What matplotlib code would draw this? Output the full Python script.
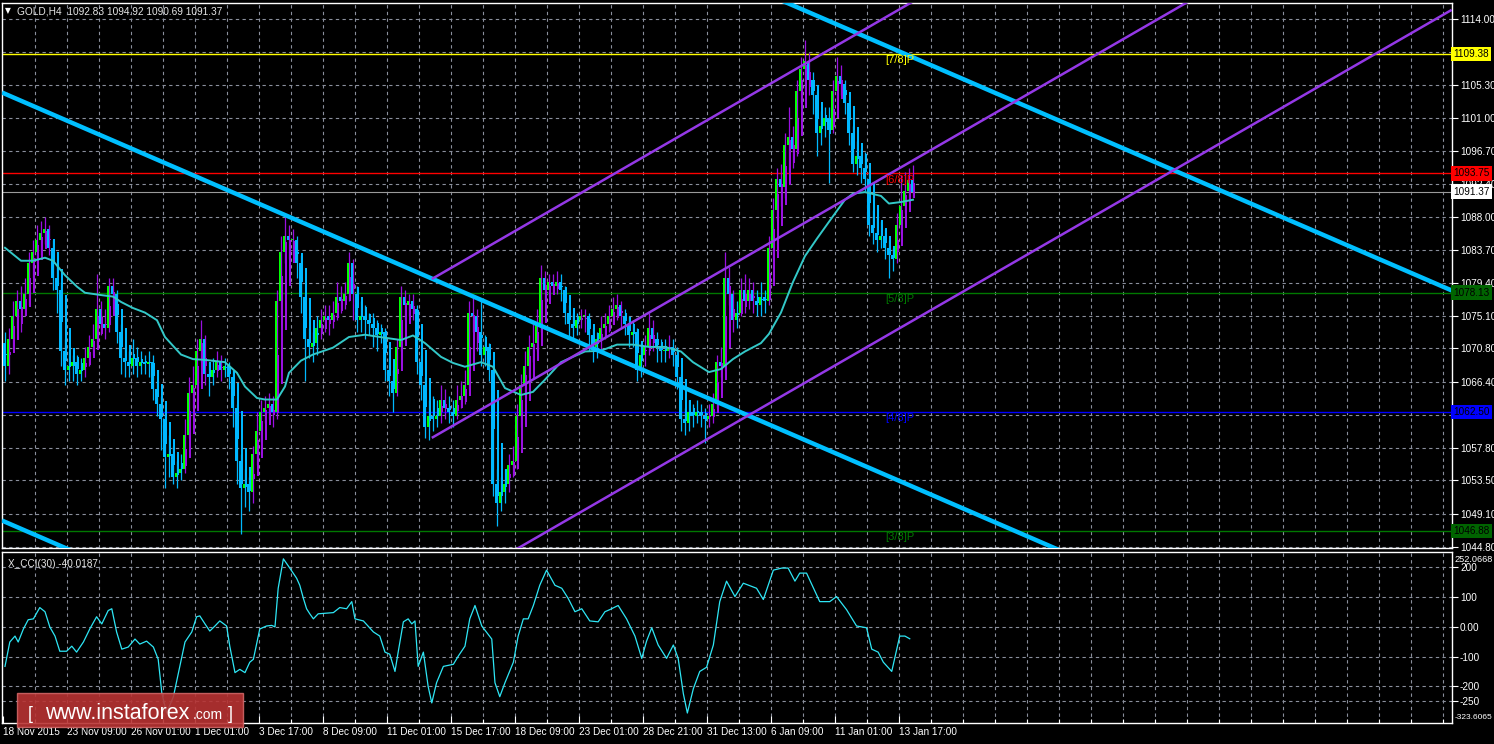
import matplotlib
matplotlib.use("Agg")
import matplotlib.pyplot as plt
import matplotlib.transforms as mtransforms
from matplotlib.patches import Rectangle
import numpy as np

plt.rcParams['font.family'] = ['Liberation Sans', 'DejaVu Sans']

# ---- datos (GOLD H4) ----
first_open = 1071.5
closes = [1068.5, 1072, 1075, 1077, 1076, 1078, 1082, 1083.5, 1085, 1086,
          1086.5, 1084, 1080, 1078.5, 1070.5, 1068, 1068.5, 1069, 1067.5, 1068,
          1069.5, 1071, 1072, 1076, 1074, 1073.5, 1079, 1078, 1073, 1069.5,
          1069, 1068.5, 1069.5, 1068.5, 1069, 1068.8, 1069, 1065.5, 1063.5, 1061.5,
          1056.5, 1057, 1054, 1054.5, 1055, 1059.5, 1065, 1066, 1070.5, 1072,
          1067.5, 1067, 1068, 1069, 1068, 1068.5, 1067, 1063, 1056, 1052.5,
          1053, 1052, 1057, 1060, 1062.5, 1063, 1063.5, 1062.5, 1077, 1083.5,
          1085.5, 1085, 1085, 1082, 1077.5, 1072, 1071, 1071.5, 1073.5, 1074.5,
          1075, 1074.5, 1075.5, 1077.5, 1077, 1078, 1082, 1078, 1074.5, 1075,
          1074.5, 1074, 1073.5, 1072.5, 1073, 1068, 1066.5, 1065, 1071, 1077.5,
          1076.5, 1077, 1076, 1069, 1066, 1060.5, 1062, 1061.5, 1062, 1064,
          1063, 1062.5, 1062, 1064, 1064.5, 1066, 1075.5, 1075, 1073, 1070,
          1071, 1068, 1053, 1050.5, 1052, 1053, 1055.5, 1056, 1062, 1066,
          1068.5, 1071, 1071.5, 1074, 1080, 1078.5, 1079.5, 1079, 1079.5, 1078.5,
          1075.5, 1074, 1073.5, 1074.5, 1075, 1075, 1072.5, 1071, 1072, 1073.5,
          1074, 1075, 1076, 1076.5, 1075, 1074, 1072.5, 1073, 1068, 1070,
          1071, 1073.5, 1072, 1071, 1070.5, 1070.5, 1071, 1070, 1067, 1061.5,
          1061, 1062.5, 1062, 1062.5, 1062, 1061.5, 1062, 1063.5, 1069, 1068.5,
          1080, 1078, 1074.5, 1075.5, 1078.5, 1077, 1078.5, 1077, 1076.5, 1077.5,
          1077, 1084, 1089, 1093, 1092, 1097.5, 1098.5, 1097, 1104.5, 1107.5,
          1108.5, 1106, 1104, 1099, 1100, 1101, 1099.5, 1104.5, 1106.5, 1105.5,
          1103, 1099, 1095, 1096, 1094.5, 1093, 1087, 1086, 1085, 1085.5,
          1084, 1083, 1082.5, 1087, 1089.5, 1091.5, 1092.83, 1091.37]
highs = [1073, 1073.5, 1077, 1078.5, 1079, 1080, 1083.5, 1085, 1087, 1087.5,
         1088, 1087, 1085, 1082, 1079.5, 1072, 1070.5, 1070, 1070, 1069.5,
         1071, 1072.5, 1074, 1080.5, 1077, 1076, 1080, 1080, 1078.5, 1074,
         1071, 1070.5, 1072, 1071, 1070.5, 1070, 1070.5, 1070, 1066.5, 1064.5,
         1062.5, 1059.5, 1058, 1056, 1057, 1061.5, 1067, 1068.5, 1072, 1074.5,
         1072.5, 1069, 1069.5, 1070.5, 1070, 1069.5, 1069, 1068, 1063.5, 1057,
         1055, 1054, 1058, 1062.5, 1064, 1064.5, 1065, 1064.5, 1078.5, 1085.5,
         1088, 1087, 1086.5, 1085.5, 1083, 1078, 1073.5, 1073, 1075, 1076,
         1076.5, 1076.5, 1077, 1079.5, 1079, 1079.5, 1083.5, 1082.5, 1079, 1077,
         1076.5, 1075.5, 1075.5, 1074.5, 1074, 1073.5, 1069.5, 1068, 1072, 1079,
         1078.5, 1078, 1078, 1076.5, 1070, 1067, 1064, 1064.5, 1064, 1066,
         1065.5, 1064.5, 1064, 1066, 1066.5, 1068, 1077, 1077.5, 1076, 1077,
         1072.5, 1071.5, 1068.5, 1055, 1054, 1055, 1057, 1058, 1063.5, 1067.5,
         1070.5, 1072.5, 1074, 1076, 1081.8, 1081, 1080.5, 1080.5, 1081, 1080.5,
         1079, 1076.5, 1075.5, 1075.5, 1076, 1076, 1075.5, 1073.5, 1073, 1075,
         1075.5, 1076.5, 1077.5, 1078, 1077, 1076, 1075, 1074.5, 1073.5, 1071.5,
         1072.5, 1075.5, 1074.5, 1073, 1072, 1072, 1072.5, 1072, 1071, 1067.5,
         1063, 1064, 1063.5, 1064, 1063.5, 1063, 1063.5, 1065, 1070, 1071,
         1083.5, 1081.5, 1078.5, 1077, 1080, 1080.5, 1080, 1079.5, 1078.5, 1079.5,
         1078.5, 1085.5, 1090.5, 1094.5, 1095, 1099, 1102.5, 1100, 1106, 1109,
         1111.2, 1109.5, 1107, 1104.5, 1102, 1102.5, 1102.5, 1106, 1109, 1108,
         1106, 1103.5, 1100, 1098, 1097, 1096.5, 1094, 1089, 1088, 1087.5,
         1086.5, 1085, 1084, 1088.5, 1093.5, 1094, 1094.5, 1094.92]
lows = [1066.5, 1067.5, 1071, 1073.5, 1073, 1075, 1076.5, 1080, 1082, 1083,
        1084.5, 1083, 1078.5, 1075.5, 1068.5, 1066, 1066.5, 1066.5, 1066, 1066.5,
        1067, 1068.5, 1070, 1071, 1072.5, 1072, 1073, 1076, 1071.5, 1067.5,
        1067, 1067, 1067.5, 1067, 1067.5, 1067.5, 1067, 1064, 1062, 1057.5,
        1052.5, 1054, 1053, 1052.5, 1053.5, 1054.5, 1059, 1063, 1065.5, 1069,
        1066, 1064.5, 1066, 1067, 1066.5, 1067, 1065.5, 1060.5, 1053, 1046.5,
        1050, 1049.5, 1050.5, 1055.5, 1058.5, 1061, 1061.5, 1060.5, 1061.5, 1075,
        1082, 1082.5, 1083, 1080, 1075.5, 1066.5, 1069.5, 1069, 1070, 1072,
        1073, 1072.5, 1073.5, 1074.5, 1075.5, 1076, 1077, 1074.5, 1073, 1073,
        1072, 1072.5, 1071, 1070.5, 1071.5, 1066.5, 1064.5, 1062.5, 1064.5, 1070.5,
        1074.5, 1075, 1074.5, 1067.5, 1064, 1059, 1058.8, 1060, 1060.5, 1061,
        1061.5, 1061, 1060.5, 1061.5, 1063, 1063.5, 1065.5, 1073, 1070.5, 1068.5,
        1068.5, 1066.5, 1051.5, 1047.5, 1049.5, 1050.5, 1052, 1054, 1055, 1060.5,
        1064.5, 1067, 1069, 1070.5, 1073, 1077, 1077.5, 1078, 1078, 1077,
        1074, 1072, 1072, 1072.5, 1073.5, 1073, 1070.5, 1069, 1069.5, 1070.5,
        1072, 1073, 1074, 1074.5, 1073.5, 1072.5, 1071, 1071, 1066.5, 1067,
        1068.5, 1070, 1070.5, 1069, 1069, 1069, 1069.5, 1068.5, 1065.5, 1060,
        1059.5, 1060, 1060.5, 1061, 1060.5, 1058.4, 1060.5, 1061, 1063, 1067,
        1068, 1076.5, 1073, 1073.5, 1075, 1075.5, 1076, 1075.5, 1075, 1075,
        1075.5, 1076.5, 1082.5, 1087.5, 1089.5, 1090.5, 1094, 1094.5, 1096, 1103,
        1104.5, 1104, 1101.5, 1096, 1097.5, 1098.5, 1092.5, 1099, 1103.5, 1104,
        1101.5, 1097.5, 1094, 1093.5, 1092.5, 1091.5, 1085.5, 1084.5, 1083.5, 1084,
        1082.5, 1080, 1081, 1082, 1086, 1088.5, 1090.5, 1090.69]
opens = [first_open] + closes[:-1]

# media movil (barra, precio)
ma_bars = [0, 4, 7, 10, 12, 15, 18, 20, 24, 27, 29, 32, 35, 38, 40, 44, 47, 50,
           55, 58, 60, 63, 65, 68, 70, 71, 74, 77, 82, 86, 90, 95, 99, 102, 105,
           109, 112, 115, 119, 122, 125, 129, 132, 135, 139, 142, 145, 149, 153,
           157, 161, 165, 169, 172, 176, 179, 182, 185, 189, 191, 194, 197, 200,
           203, 206, 210, 212, 215, 219, 221, 224, 227]
ma_vals = [1084.0, 1082.3, 1082.3, 1082.7, 1082.3, 1080.4, 1078.9, 1078.1, 1077.8,
           1077.6, 1076.9, 1076.1, 1075.5, 1074.5, 1072.3, 1070.0, 1069.4, 1069.3,
           1069.0, 1067.6, 1065.8, 1064.3, 1064.1, 1064.1, 1065.8, 1067.6, 1069.2,
           1070.0, 1070.9, 1072.3, 1072.6, 1072.2, 1071.9, 1072.5, 1071.5, 1069.7,
           1068.9, 1068.4, 1069.0, 1068.4, 1065.6, 1064.7, 1065.1, 1066.7, 1069.0,
           1069.7, 1070.4, 1070.5, 1071.3, 1071.3, 1071.0, 1071.0, 1070.4, 1069.0,
           1067.7, 1068.1, 1069.4, 1070.4, 1071.5, 1072.7, 1075.5, 1079.5, 1082.9,
           1085.2, 1087.4, 1090.3, 1091.1, 1091.3, 1090.8, 1089.8, 1090.0, 1090.3]

# X_CCI(30)
cci_bars = [0, 1.2, 2.5, 3.3, 4.6, 5.8, 7.1, 8.7, 10, 11.2, 12.5, 13.7, 15.4, 16.7,
            17.9, 19.6, 21.2, 22.9, 24.2, 25.8, 26.7, 27.9, 29.2, 30.8, 32.5, 33.7,
            35.4, 37.1, 38.3, 39.2, 40.4, 42.1, 43.7, 45, 46.7, 47.9, 48.7, 50,
            51.2, 52.5, 53.7, 55.4, 56.2, 57.5, 58.7, 60, 61.2, 62.1, 63.7, 65.4,
            66.7, 67.5, 68.3, 69.6, 71.2, 72.9, 73.7, 74.6, 75.4, 76.2, 77.1, 78.3,
            82.1, 83.7, 85.4, 86.7, 87.5, 89.6, 92.1, 93.7, 95, 96.2, 97.5, 98.3,
            99.6, 100.8, 101.7, 102.5, 103.3, 104.6, 105.8, 106.7, 107.9, 109.6,
            112.1, 113.3, 115, 116.2, 117.5, 119.2, 121.7, 122.5, 123.7, 125, 127.1,
            128.3, 129.6, 130.8, 132.1, 133.7, 135.4, 137.5, 139.2, 140.8, 142.5,
            144.2, 146.2, 148.3, 150, 151.2, 153.3, 155.4, 157.5, 159.2, 160.4,
            161.7, 163.3, 165.4, 167.1, 168.3, 169.6, 170.6, 172.1, 173.7, 175.4,
            177.1, 178.7, 180.4, 182.5, 184.6, 187.9, 189.6, 192.1, 194.2, 195.8,
            197.5, 198.7, 200.4, 203.7, 206.2, 207.9, 210.4, 212.9, 215.4, 216.7,
            218.3, 219.6, 221.7, 223.7, 225, 226.2]
cci_vals = [-133, -51, -31, -51, -7, 24, 27, 65, 51, 0, -31, -82, -82, -65,
            -85, -51, -7, 34, 10, 55, 61, -17, -75, -68, -41, -58,
            -48, -68, -109, -222, -290, -235, -133, -51, -17, 34, 37, 10,
            -14, 3, 20, 3, -65, -154, -143, -154, -119, -109, -7, 3,
            5, 0, 130, 229, 198, 164, 140, 96, 61, 44, 27, 44,
            48, 65, 61, 85, 27, 20, -17, -31, -85, -92, -150, -85,
            17, 27, 10, 20, -133, -85, -201, -256, -188, -133,
            -126, -99, -65, 27, 72, 3, -41, -188, -235, -188, -119,
            -31, 27, 27, 72, 140, 191, 140, 130, 96, 51,
            61, 20, 17, 51, 58, 72, 27, -31, -106, -48,
            -3, -61, -106, -61, -106, -225, -290, -208, -150, -136,
            -61, 85, 154, 102, 147, 130, 92, 191, 198, 198,
            154, 181, 181, 85, 85, 102, 58, 3, -3, -75,
            -85, -119, -150, -31, -31, -40]
cci_last = -40.0187

# lineas de tendencia: (barra0, precio0, barra1, precio1)
blue_lines = [(-0.75, 1104.36, 361.7, 1022.08),
              (-0.75, 1160.67, 361.7, 1078.40),
              (-0.75, 1048.23, 361.7, 965.95)]
violet_lines = [(106.7, 1079.90, 361.7, 1157.04),
                (106.7, 1059.07, 361.7, 1136.20),
                (106.7, 1038.08, 361.7, 1115.20)]

murrey_levels = [1109.38, 1093.75, 1078.13, 1062.50, 1046.88]
murrey_names = ['[7/8]P', '[6/8]P', '[5/8]P', '[4/8]P', '[3/8]P']
last_price = 1091.37

price_ticks = [1114.00, 1109.70, 1105.30, 1101.00, 1096.70, 1092.40, 1088.00,
               1083.70, 1079.40, 1075.10, 1070.80, 1066.40, 1062.10, 1057.80,
               1053.50, 1049.10, 1044.80]
# etiquetas tapadas por los recuadros de nivel en el original
hidden_ticks = [1109.70, 1062.10]
cci_ticks = [200, 100, 0, -100, -200, -250]
cci_tick_labels = ['200', '100', '0.00', '-100', '-200', '-250']
cci_max, cci_min = 252.0668, -323.6065
date_labels = ['18 Nov 2015', '23 Nov 09:00', '26 Nov 01:00', '1 Dec 01:00',
               '3 Dec 17:00', '8 Dec 09:00', '11 Dec 01:00', '15 Dec 17:00',
               '18 Dec 09:00', '23 Dec 01:00', '28 Dec 21:00', '31 Dec 13:00',
               '6 Jan 09:00', '11 Jan 01:00', '13 Jan 17:00']

# ---- estilos ----
UP = '#9A10E0'
DOWN = '#00B8FF'
GREEN = '#00FF00'
GRID = '#8a8f9c'
murrey_colors = ['#FFFF00', '#FF0000', '#007800', '#0000FF', '#007800']
box_levels = [1109.38, 1093.75, last_price, 1078.13, 1062.50, 1046.88]
box_colors = ['#FFFF00', '#FF0000', '#FFFFFF', '#006400', '#0000FF', '#006400']
FS = 7.2

W, H = 1494, 744
fig = plt.figure(figsize=(W / 100, H / 100), dpi=100, facecolor='black')
ax = fig.add_axes([2 / W, 1 - 548 / H, 1449.7 / W, 545 / H])
axc = fig.add_axes([2 / W, 1 - 723 / H, 1449.7 / W, 171 / H], sharex=ax)

for a in (ax, axc):
    a.set_facecolor('black')
    for s in a.spines.values():
        s.set_color('white')
        s.set_linewidth(1.0)

xlim = (-0.75, 361.7)
ax.set_xlim(*xlim)
ax.set_ylim(1044.63, 1116.10)
axc.set_ylim(cci_min, cci_max)

# rejilla
grid_bars = np.arange(7.5, 362, 8)
for b in grid_bars:
    ax.axvline(b, color=GRID, lw=0.8, ls=(0, (3, 3)), zorder=0)
    axc.axvline(b, color=GRID, lw=0.8, ls=(0, (3, 3)), zorder=0)
for p in price_ticks:
    ax.axhline(p, color=GRID, lw=0.8, ls=(0, (3, 3)), zorder=0)
for v in cci_ticks:
    axc.axhline(v, color=GRID, lw=0.8, ls=(0, (3, 3)), zorder=0)

# niveles de Murrey
for lvl, name, col in zip(murrey_levels, murrey_names, murrey_colors):
    ax.axhline(lvl, color=col, lw=1.0, zorder=1)
    ax.text(220, lvl - 0.15, name, color=col, fontsize=8, va='top', ha='left', zorder=6)
ax.axhline(last_price, color='#9a9a9a', lw=0.8, zorder=1)

# velas + Heiken Ashi
o = np.array(opens)
h = np.array(highs)
l = np.array(lows)
c = np.array(closes)
x = np.arange(len(c))
ha_c = (o + h + l + c) / 4
ha_o = np.zeros_like(ha_c)
ha_o[0] = (o[0] + c[0]) / 2
for i in range(1, len(c)):
    ha_o[i] = (ha_o[i - 1] + ha_c[i - 1]) / 2
ha_cols = [UP if hc >= ho else DOWN for ho, hc in zip(ha_o, ha_c)]
real_cols = [GREEN if cc >= oo else DOWN for oo, cc in zip(o, c)]

ax.vlines(x, l, h, colors=ha_cols, lw=0.9, zorder=2)
body_real = np.maximum(np.abs(c - o), 0.15)
ax.bar(x - 0.15, body_real, bottom=np.minimum(o, c), width=0.55, color=real_cols, zorder=3)
body_ha = np.maximum(np.abs(ha_c - ha_o), 0.15)
ax.bar(x + 0.2, body_ha, bottom=np.minimum(ha_o, ha_c), width=0.55, color=ha_cols, zorder=3)

# media movil
ax.plot(ma_bars, ma_vals, color='#33C8C8', lw=1.4, zorder=4)

# canales
for b0, p0, b1, p1 in blue_lines:
    ax.plot([b0, b1], [p0, p1], color='#00BFFF', lw=3.2, zorder=5, solid_capstyle='butt')
for b0, p0, b1, p1 in violet_lines:
    ax.plot([b0, b1], [p0, p1], color='#9438E6', lw=1.8, zorder=5, solid_capstyle='butt')

# eje de precios
ax.yaxis.tick_right()
ax.set_yticks(price_ticks)
ax.set_yticklabels(['' if p in hidden_ticks else f'{p:.2f}' for p in price_ticks])
ax.tick_params(axis='y', colors='white', labelsize=FS, length=4, pad=2, width=0.8)
ax.tick_params(axis='x', which='both', bottom=False, labelbottom=False)

trans = mtransforms.blended_transform_factory(ax.transAxes, ax.transData)
for v, fc in zip(box_levels, box_colors):
    ax.text(1.0012, v, f'{v:.2f}', transform=trans, ha='left', va='center',
            fontsize=FS, color='black', clip_on=False, zorder=10,
            bbox=dict(boxstyle='square,pad=0.22', fc=fc, ec='none'))

# CCI
axc.plot(cci_bars, cci_vals, color='#2EE6F5', lw=0.9, zorder=3)
axc.yaxis.tick_right()
axc.set_yticks(cci_ticks)
axc.set_yticklabels(cci_tick_labels)
axc.tick_params(axis='y', colors='white', labelsize=FS, length=4, pad=2, width=0.8)
transc = mtransforms.blended_transform_factory(axc.transAxes, axc.transAxes)
axc.text(1.002, 0.985, f'{cci_max:.4f}', transform=transc, color='white', fontsize=6.6,
         va='top', ha='left', clip_on=False)
axc.text(1.002, 0.01, f'{cci_min:.4f}', transform=transc, color='white', fontsize=6.0,
         va='bottom', ha='left', clip_on=False)
axc.text(0.004, 0.93, f'X_CCI(30) {cci_last:.4f}', transform=axc.transAxes,
         color='#E6E6E6', fontsize=FS, va='center', ha='left')

# eje de tiempo
major = np.arange(len(date_labels)) * 16 - 0.5
axc.set_xticks(major)
axc.set_xticklabels(date_labels)
axc.set_xticks(np.arange(7.5, 362, 8), minor=True)
axc.tick_params(axis='x', which='major', colors='white', labelsize=FS, length=5,
                direction='in', pad=3, width=0.8)
axc.tick_params(axis='x', which='minor', colors='white', length=3, direction='in', width=0.8)
for lab in axc.get_xticklabels():
    lab.set_horizontalalignment('left')
axc.set_xlim(*xlim)

# titulo
fig.text(5 / W, 1 - 11 / H, '\u25bc', color='white', fontsize=5.5, va='center', ha='left',
         family=['DejaVu Sans'])
fig.text(17 / W, 1 - 11 / H, 'GOLD,H4  1092.83 1094.92 1090.69 1091.37', color='#E6E6E6',
         fontsize=7.3, va='center', ha='left')

# marca de agua
fig.patches.append(Rectangle((17 / W, 1 - 727 / H), 226 / W, 34 / H, transform=fig.transFigure,
                             fc=(0.72, 0.2, 0.2), ec=(0.82, 0.4, 0.4), lw=1, alpha=0.9, zorder=20))
fig.text(28 / W, 1 - 719 / H, '[', color='white', fontsize=13, va='baseline', zorder=21)
fig.text(45 / W, 1 - 719 / H, 'www.instaforex', color='white', fontsize=15.5, va='baseline', zorder=21)
fig.text(193 / W, 1 - 719 / H, '.com', color='white', fontsize=10, va='baseline', zorder=21)
fig.text(228 / W, 1 - 719 / H, ']', color='white', fontsize=13, va='baseline', zorder=21)

fig.savefig('out.png', dpi=100, facecolor='black')
